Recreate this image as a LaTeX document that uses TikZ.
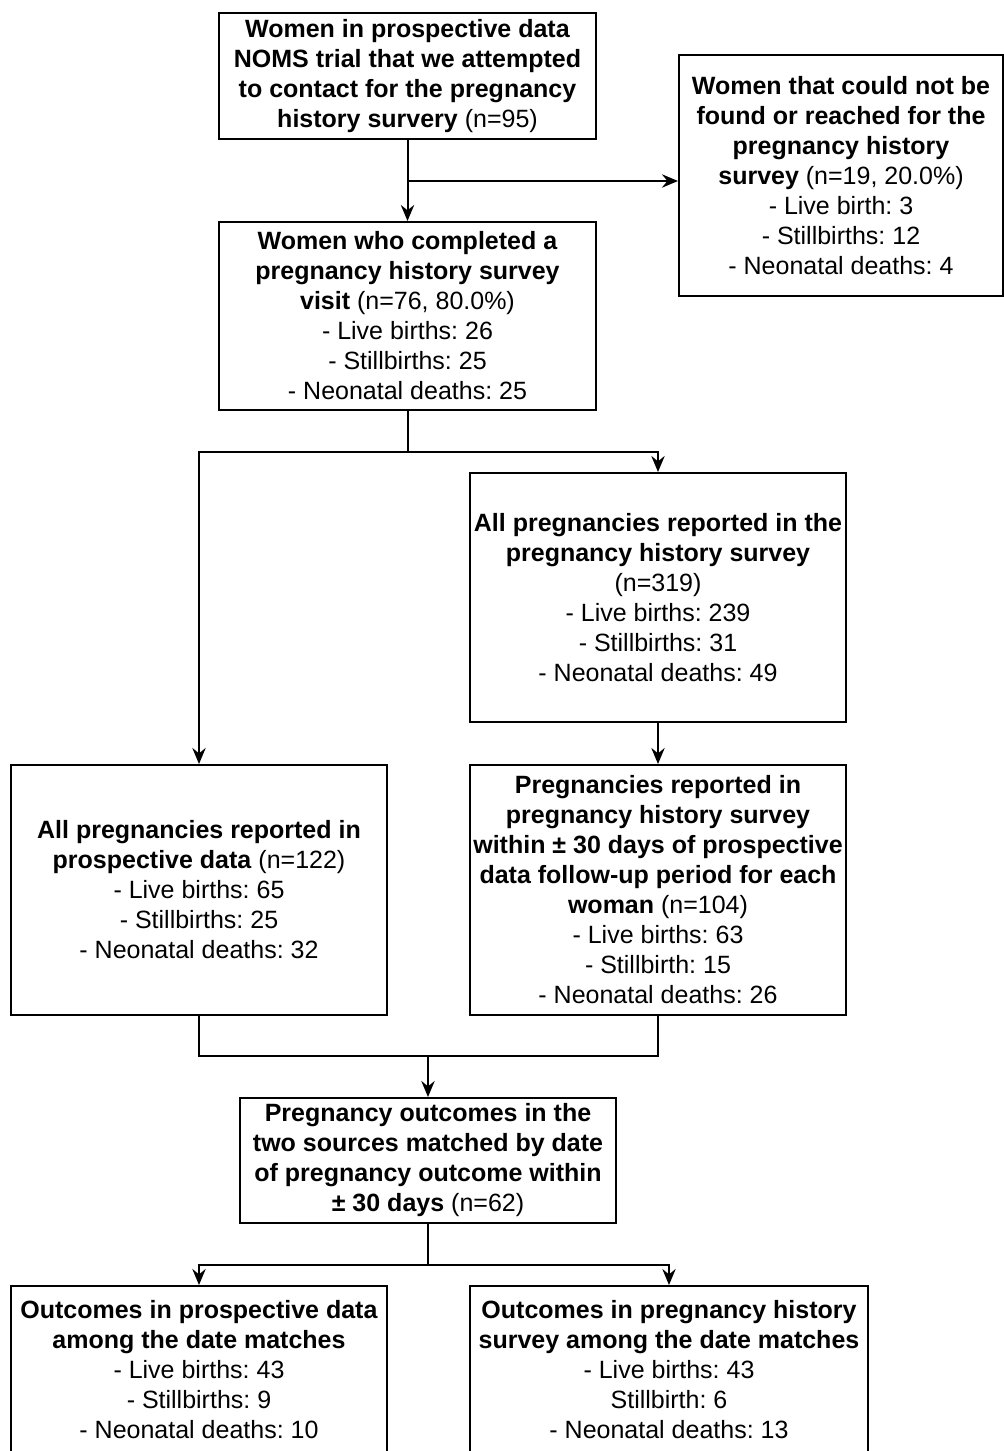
\documentclass[tikz,border=0pt]{standalone}
\usepackage{fontspec}
\setmainfont{Liberation Sans}
\usetikzlibrary{arrows.meta}
\frenchspacing
\begin{document}
\begin{tikzpicture}[x=0.75pt,y=-0.75pt,
  box/.style={draw, line width=1.5pt, inner sep=0pt, align=center, font=\fontsize{18.75}{22.5}\selectfont},
  conn/.style={line width=1.5pt},
  arr/.style={conn, -{Stealth[length=12pt,width=10pt,inset=4pt]}}]
\useasboundingbox (0,0) rectangle (1003,1451);

\node[box, minimum width=377*0.75pt, minimum height=126*0.75pt] (b1) at (407.5,76)
 {\textbf{Women in prospective data}\\\textbf{NOMS trial that we attempted}\\\textbf{to contact for the pregnancy}\\\textbf{history survery} (n=95)};

\node[box, minimum width=324*0.75pt, minimum height=241*0.75pt] (nf) at (841,175.5)
 {\textbf{Women that could not be}\\\textbf{found or reached for the}\\\textbf{pregnancy history}\\\textbf{survey} (n=19, 20.0\%)\\- Live birth: 3\\- Stillbirths: 12\\- Neonatal deaths: 4};

\node[box, minimum width=377*0.75pt, minimum height=188*0.75pt] (b2) at (407.5,316)
 {\textbf{Women who completed a}\\\textbf{pregnancy history survey}\\\textbf{visit} (n=76, 80.0\%)\\- Live births: 26\\- Stillbirths: 25\\- Neonatal deaths: 25};

\node[box, minimum width=376*0.75pt, minimum height=249*0.75pt] (b3) at (658,597.5)
 {\textbf{All pregnancies reported in the}\\\textbf{pregnancy history survey}\\(n=319)\\- Live births: 239\\- Stillbirths: 31\\- Neonatal deaths: 49};

\node[box, minimum width=376*0.75pt, minimum height=250*0.75pt] (b4) at (199,890)
 {\textbf{All pregnancies reported in}\\\textbf{prospective data} (n=122)\\- Live births: 65\\- Stillbirths: 25\\- Neonatal deaths: 32};

\node[box, minimum width=376*0.75pt, minimum height=250*0.75pt] (b5) at (658,890)
 {\textbf{Pregnancies reported in}\\\textbf{pregnancy history survey}\\\textbf{within ± 30 days of prospective}\\\textbf{data follow-up period for each}\\\textbf{woman} (n=104)\\- Live births: 63\\- Stillbirth: 15\\- Neonatal deaths: 26};

\node[box, minimum width=376*0.75pt, minimum height=125*0.75pt] (b6) at (428,1160.5)
 {\textbf{Pregnancy outcomes in the}\\\textbf{two sources matched by date}\\\textbf{of pregnancy outcome within}\\\textbf{± 30 days} (n=62)};

\node[box, minimum width=376*0.75pt, minimum height=168*0.75pt] (b7) at (199,1370)
 {\textbf{Outcomes in prospective data}\\\textbf{among the date matches}\\- Live births: 43\\- Stillbirths: 9\\- Neonatal deaths: 10};

\node[box, minimum width=398*0.75pt, minimum height=168*0.75pt] (b8) at (669,1370)
 {\textbf{Outcomes in pregnancy history}\\\textbf{survey among the date matches}\\- Live births: 43\\Stillbirth: 6\\- Neonatal deaths: 13};

% connectors
\coordinate (j1) at (407.5,181);
\draw[arr] (b1.south) -- (b2.north);
\draw[arr] (j1) -- (j1 -| nf.west);

\coordinate (j2) at (407.5,452);
\draw[conn] (b2.south) -- (j2);
\draw[arr] (j2) -| (b4.north);
\draw[arr] (j2) -| (b3.north);

\draw[arr] (b3.south) -- (b5.north);

\coordinate (j3) at (428,1056);
\draw[conn] (b4.south) |- (j3) -| (b5.south);
\draw[arr] (j3) -- (b6.north);

\coordinate (j4) at (428,1265);
\draw[conn] (b6.south) -- (j4);
\draw[arr] (j4) -| (b7.north);
\draw[arr] (j4) -| (b8.north);
\end{tikzpicture}
\end{document}
